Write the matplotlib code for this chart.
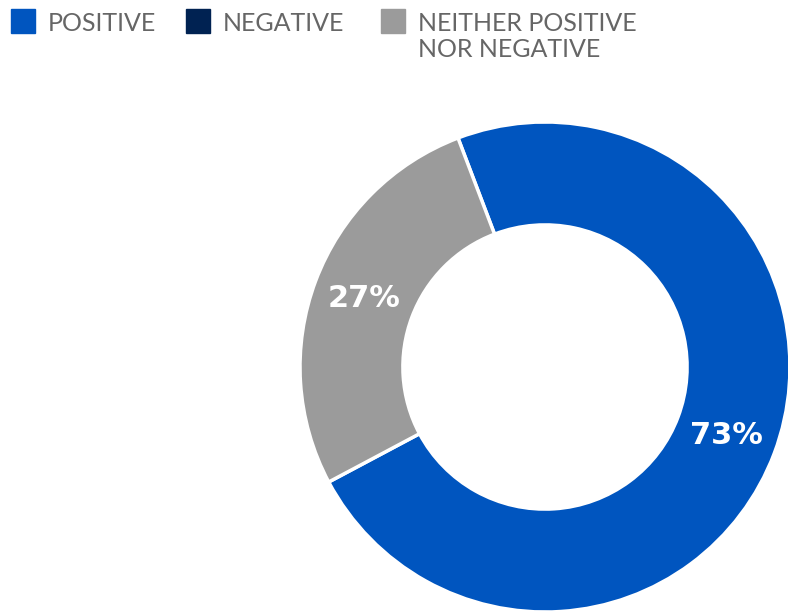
import matplotlib.pyplot as plt
from matplotlib.patches import Rectangle

labels = ['POSITIVE', 'NEGATIVE', 'NEITHER POSITIVE\nNOR NEGATIVE']
values = [73, 0, 27]
colors = ['#0055BF', '#002252', '#9B9B9B']

W, H = 788, 612
fig = plt.figure(figsize=(W / 100, H / 100), dpi=100)

# donut: center (545, 367) px, radius 245 px
cx, cy, r = 545, 367, 245
ax = fig.add_axes([(cx - r) / W, (H - cy - r) / H, 2 * r / W, 2 * r / H])

shown = [(v, c) for v, c in zip(values, colors) if v > 0]
wedges, _, autotexts = ax.pie(
    [v for v, _ in shown], colors=[c for _, c in shown],
    startangle=110.8, counterclock=False, radius=1,
    autopct='%d%%', pctdistance=0.79,
    wedgeprops=dict(width=0.42, edgecolor='white', linewidth=2.5),
)
for t in autotexts:
    t.set_color('white')
    t.set_fontsize(22)
    t.set_fontweight('bold')
    t.set_family('DejaVu Sans')
ax.set_xlim(-1, 1)
ax.set_ylim(-1, 1)
ax.set_aspect('equal')
ax.axis('off')

# legend row (each line placed by its own baseline)
sq_x = [11, 186, 381]
tx_x = [48, 223, 418]
for lab, c, sx, tx in zip(labels, colors, sq_x, tx_x):
    fig.patches.append(Rectangle((sx / W, 1 - 33 / H), 24 / W, 24 / H,
                                 transform=fig.transFigure, color=c))
    for i, line in enumerate(lab.split('\n')):
        fig.text(tx / W, 1 - (31 + 26 * i) / H, line, ha='left', va='baseline',
                 fontsize=18, color='#666666', family=['Lato', 'DejaVu Sans'])

fig.savefig('out.png', dpi=100)
